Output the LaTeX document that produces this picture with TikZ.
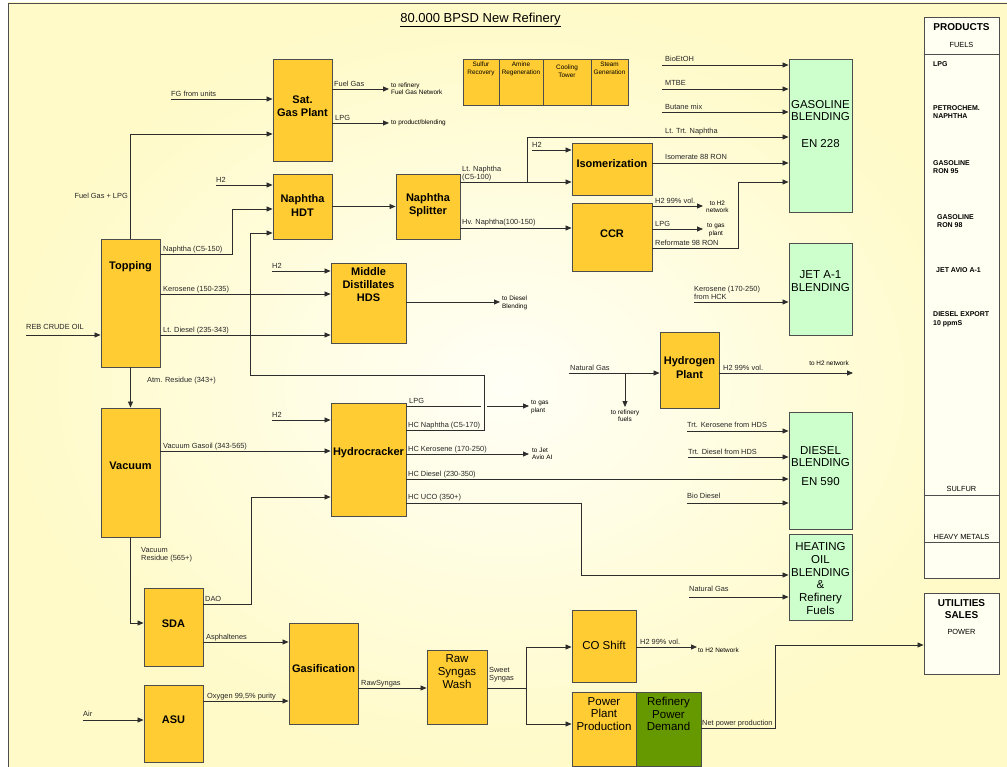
\documentclass[tikz,border=0pt]{standalone}
\usepackage{fontspec}
\setmainfont{Liberation Sans}
\usetikzlibrary{arrows.meta,calc}
\definecolor{bgin}{RGB}{255,255,246}
\definecolor{bgout}{RGB}{255,250,200}
\definecolor{unitc}{RGB}{255,204,51}
\definecolor{blendc}{RGB}{204,255,204}
\definecolor{darkg}{RGB}{102,153,0}
\definecolor{edgec}{RGB}{77,77,77}
\definecolor{linec}{RGB}{45,45,45}
\definecolor{panelc}{RGB}{255,255,242}
\begin{document}
\begin{tikzpicture}[x=1pt,y=-1pt,
  wh/.style 2 args={minimum width=#1pt, minimum height=#2pt},
  unit/.style={draw=edgec, fill=unitc, line width=0.9pt, inner sep=0pt},
  blend/.style={draw=edgec, fill=blendc, line width=0.9pt, inner sep=0pt},
  panel/.style={draw=edgec, fill=panelc, line width=0.9pt, inner sep=0pt},
  ut/.style={font=\fontsize{11}{13.2}\selectfont\bfseries, align=center, inner sep=0pt},
  ur/.style={font=\fontsize{11.5}{12.8}\selectfont, align=center, inner sep=0pt},
  sm/.style={font=\fontsize{6.4}{8}\selectfont, align=center, inner sep=0pt},
  lab/.style={font=\fontsize{7.4}{8.3}\selectfont, inner sep=0pt, anchor=base west, text=black!85},
  tiny/.style={font=\fontsize{6.4}{7.5}\selectfont, inner sep=0pt, align=left, anchor=west},
  pitem/.style={font=\fontsize{7}{8.5}\selectfont\bfseries, inner sep=0pt, align=left, anchor=west},
  ptext/.style={font=\fontsize{7.4}{9}\selectfont, inner sep=0pt},
  arr/.style={draw=linec, line width=0.8pt, -{Triangle[length=6pt,width=5pt]}},
  ln/.style={draw=linec, line width=0.8pt},
  edge/.style={draw=edgec, line width=0.9pt}]
\useasboundingbox (0,0) rectangle (1007,767);
% background and frame
\shade[inner color=bgin, outer color=bgout] (8,3) rectangle (1007,767);
\draw[edge] (8,767) -- (8,3) -- (1007,3);
\node[font=\fontsize{13}{15}\selectfont, inner sep=0pt] (title) at (480.5,20) {\underline{80.000 BPSD New Refinery}};

% process units
\node[unit, wh={59}{102}, label={[ut,yshift=3.5pt]center:{Sat.\\Gas Plant}}] (satgas) at (302.5,110) {};
\node[unit, wh={59}{65}, label={[ut,yshift=1pt]center:{Naphtha\\HDT}}] (nhdt) at (302.5,206.5) {};
\node[unit, wh={59}{128}, label={[ut,yshift=36pt]center:Topping}] (topping) at (130.5,303) {};
\node[unit, wh={64}{65}, label={[ut,yshift=1pt]center:{Naphtha\\Splitter}}] (splitter) at (428,206.5) {};
\node[unit, wh={80}{52}, label={[ut,yshift=5pt]center:Isomerization}] (iso) at (612,169) {};
\node[unit, wh={80}{68}, label={[ut,yshift=3pt]center:CCR}] (ccr) at (612,237) {};
\node[unit, wh={75}{80}, label={[ut,yshift=18.5pt]center:{Middle\\Distillates\\HDS}}] (mdhds) at (368.5,303) {};
\node[unit, wh={59}{129}, label={[ut,yshift=6.5pt]center:Vacuum}] (vacuum) at (130.5,472.5) {};
\node[unit, wh={75}{113}, label={[ut,yshift=6.5pt]center:Hydrocracker}] (hcr) at (368.5,459.5) {};
\node[unit, wh={59}{78}, label={[ut,yshift=3pt]center:SDA}] (sda) at (173.5,627) {};
\node[unit, wh={59}{77}, label={[ut,yshift=3.5pt]center:ASU}] (asu) at (173.5,723.5) {};
\node[unit, wh={69}{101}, label={[ut,yshift=4.5pt]center:Gasification}] (gasif) at (323.5,673.5) {};
\node[unit, wh={60}{74}, label={[ur,yshift=15.5pt]center:{Raw\\Syngas\\Wash}}] (rsw) at (457,687) {};
\node[unit, wh={64}{72}, label={[ur,yshift=1pt]center:CO Shift}] (coshift) at (604,646) {};
\node[unit, wh={64}{74}, label={[ur,yshift=15pt]center:{Power\\Plant\\Production}}] (ppp) at (604,729) {};
\node[unit, fill=darkg, wh={65}{74}, label={[ur,yshift=15pt]center:{Refinery\\Power\\Demand}}] (rpd) at (668.5,729) {};
\node[unit, wh={59}{76}, label={[ut,yshift=2.5pt]center:{Hydrogen\\Plant}}] (h2plant) at (689.5,370) {};

% utility boxes
\node[unit, wh={36}{46}, label={[sm,anchor=north,yshift=-3pt]north:{Sulfur\\Recovery}}] (sulfur) at (481,82) {};
\node[unit, wh={44}{46}, label={[sm,anchor=north,yshift=-3pt]north:{Amine\\Regeneration}}] (amine) at (521,82) {};
\node[unit, wh={48}{46}, label={[sm,anchor=north,yshift=-6pt]north:{Cooling\\Tower}}] (cooling) at (567,82) {};
\node[unit, wh={37}{46}, label={[sm,anchor=north,yshift=-3pt]north:{Steam\\Generation}}] (steam) at (609.5,82) {};

% blending boxes
\node[blend, wh={63}{153}, label={[ur,yshift=11.5pt]center:{GASOLINE\\BLENDING\\[14pt]EN 228}}] (gasoline) at (820.5,135.5) {};
\node[blend, wh={63}{92}, label={[ur,yshift=8pt]center:{JET A-1\\BLENDING}}] (jet) at (820.5,289) {};
\node[blend, wh={63}{117}, label={[ur,yshift=4.5pt]center:{DIESEL\\BLENDING\\[6pt]EN 590}}] (diesel) at (820.5,470.5) {};
\node[blend, wh={63}{86}, label={[ur,yshift=-1.5pt]center:{HEATING\\OIL\\BLENDING\\\&\\Refinery\\Fuels}}] (heating) at (820.5,577) {};

% panels
\node[panel, wh={75}{561}] (products) at (961.5,297.5) {};
\node[font=\fontsize{10}{12}\selectfont\bfseries, inner sep=0pt] (prodh) at (961.5,27) {PRODUCTS};
\node[ptext] (fuels) at (961.5,45) {FUELS};
\draw[edge] (products.west |- 0,54) -- (products.east |- 0,54);
\node[pitem] (p1) at (933,64) {LPG};
\node[pitem] (p2) at (933,112) {PETROCHEM.\\NAPHTHA};
\node[pitem] (p3) at (933,167) {GASOLINE\\RON 95};
\node[pitem] (p4) at (937,221) {GASOLINE\\RON 98};
\node[pitem] (p5) at (936,270) {JET AVIO A-1};
\node[pitem] (p6) at (933,319.5) {DIESEL EXPORT\\10 ppmS};
\node[ptext] (p7) at (961.5,489) {SULFUR};
\draw[edge] (products.west |- 0,495) -- (products.east |- 0,495);
\node[ptext] (p8) at (961.5,537) {HEAVY METALS};
\draw[edge] (products.west |- 0,542) -- (products.east |- 0,542);
\node[panel, wh={75}{81}] (utilities) at (961.5,633.5) {};
\node[font=\fontsize{10}{12}\selectfont\bfseries, align=center, inner sep=0pt] (uth) at (961.5,609) {UTILITIES\\SALES};
\node[ptext] (power) at (961.5,632) {POWER};

% ---- Sat gas plant
\coordinate (fgsrc) at (171,99);
\draw[arr] (fgsrc) -- (fgsrc -| satgas.west);
\node[lab] (l1) at (171,96.5) {FG from units};
\draw[arr] (topping.north) |- (satgas.west |- 0,134);
\node[lab, anchor=base east] (l2) at (128,198.5) {Fuel Gas + LPG};
\coordinate (fgout) at (389,89);
\draw[arr] (satgas.east |- fgout) -- (fgout);
\node[lab] (l3) at (334,86.5) {Fuel Gas};
\node[tiny] (l4) at (391,88.5) {to refinery\\Fuel Gas Network};
\coordinate (lpgout) at (389,123);
\draw[arr] (satgas.east |- lpgout) -- (lpgout);
\node[lab] (l5) at (335,120.5) {LPG};
\node[tiny] (l6) at (391,123) {to product/blending};

% ---- Naphtha HDT
\coordinate (h2a) at (216,185);
\draw[arr] (h2a) -- (h2a -| nhdt.west);
\node[lab] (l7) at (216,182.5) {H2};
\draw[arr] (topping.east |- 0,254) -| (232,209) -- (nhdt.west |- 0,209);
\node[lab] (l8) at (163,251.5) {Naphtha (C5-150)};
\draw[arr] (hcr.east |- 0,430) -| (484,375) -| (250,233) -- (nhdt.west |- 0,233);
\node[lab] (l9) at (408,427.5) {HC Naphtha (C5-170)};
\draw[arr] (nhdt.east) -- (splitter.west);

% ---- Splitter
\draw[arr] (splitter.east |- 0,182) -- (iso.west |- 0,182);
\node[lab, anchor=north west, align=left] (l10) at (462,165.5) {Lt. Naphtha\\(C5-100)};
\coordinate (ltbr) at (527,182);
\draw[arr] (ltbr) |- (gasoline.west |- 0,137);
\node[lab] (l11) at (665,133.5) {Lt. Trt. Naphtha};
\coordinate (h2b) at (532,150);
\draw[arr] (h2b) -- (h2b -| iso.west);
\node[lab] (l12) at (532,147.5) {H2};
\draw[arr] (splitter.east |- 0,228) -- (ccr.west |- 0,228);
\node[lab] (l13) at (462,225) {Hv. Naphtha(100-150)};
\draw[arr] (iso.east |- 0,163) -- (gasoline.west |- 0,163);
\node[lab] (l14) at (665,159.5) {Isomerate 88 RON};

% ---- CCR
\coordinate (ccrh2) at (703,206);
\draw[arr] (ccr.east |- ccrh2) -- (ccrh2);
\node[lab] (l15) at (655,203.5) {H2 99\% vol.};
\node[tiny, align=center] (l16) at (706,207) {to H2\\network};
\coordinate (ccrlpg) at (703,229);
\draw[arr] (ccr.east |- ccrlpg) -- (ccrlpg);
\node[lab] (l17) at (655,226.5) {LPG};
\node[tiny, align=center] (l18) at (707,230) {to gas\\plant};
\draw[arr] (ccr.east |- 0,248) -| (738,182) -- (gasoline.west |- 0,182);
\node[lab] (l19) at (655,245.5) {Reformate 98 RON};

% ---- Gasoline inputs
\coordinate (bio) at (662,65);
\draw[arr] (bio) -- (bio -| gasoline.west);
\node[lab] (l20) at (665,62) {BioEtOH};
\coordinate (mtbe) at (662,89);
\draw[arr] (mtbe) -- (mtbe -| gasoline.west);
\node[lab] (l21) at (665,86) {MTBE};
\coordinate (butane) at (662,112);
\draw[arr] (butane) -- (butane -| gasoline.west);
\node[lab] (l22) at (665,109.5) {Butane mix};

% ---- Jet
\coordinate (kerohck) at (694,302);
\draw[arr] (kerohck) -- (kerohck -| jet.west);
\node[lab, anchor=north west, align=left] (l23) at (694,286) {Kerosene (170-250)\\from HCK};

% ---- Hydrogen plant
\coordinate (ng1) at (569,373);
\draw[arr] (ng1) -- (ng1 -| h2plant.west);
\node[lab] (l24) at (570,370.5) {Natural Gas};
\coordinate (ngbr) at (625,373);
\coordinate (ngfuel) at (625,407);
\draw[arr] (ngbr) -- (ngfuel);
\node[tiny, anchor=north, align=center] (l25) at (625,409.5) {to refinery\\fuels};
\coordinate (h2net) at (853,373);
\draw[arr] (h2plant.east |- h2net) -- (h2net);
\node[lab] (l26) at (723,370.5) {H2 99\% vol.};
\node[tiny, anchor=base east] (l27) at (849,366) {to H2 network};

% ---- Middle distillates HDS
\coordinate (h2c) at (272,271);
\draw[arr] (h2c) -- (h2c -| mdhds.west);
\node[lab] (l28) at (272,268.5) {H2};
\draw[arr] (topping.east |- 0,294) -- (mdhds.west |- 0,294);
\node[lab] (l29) at (163,291.5) {Kerosene (150-235)};
\draw[arr] (topping.east |- 0,335) -- (mdhds.west |- 0,335);
\node[lab] (l30) at (163,332.5) {Lt. Diesel (235-343)};
\coordinate (todiesel) at (500,302);
\draw[arr] (mdhds.east |- todiesel) -- (todiesel);
\node[tiny] (l31) at (502,303) {to Diesel\\Blending};

% ---- Crude, vacuum
\coordinate (crude) at (26,335);
\draw[arr] (crude) -- (crude -| topping.west);
\node[lab] (l32) at (26,329.5) {REB CRUDE OIL};
\draw[arr] (topping.south) -- (vacuum.north);
\node[lab] (l33) at (147,382.5) {Atm. Residue (343+)};
\draw[arr] (vacuum.east |- 0,451) -- (hcr.west |- 0,451);
\node[lab] (l34) at (163,448.5) {Vacuum Gasoil (343-565)};

% ---- Hydrocracker
\coordinate (h2d) at (272,420);
\draw[arr] (h2d) -- (h2d -| hcr.west);
\node[lab] (l35) at (272,417.5) {H2};
\draw[arr] (sda.east |- 0,604) -| (251,497) -- (hcr.west |- 0,497);
\node[lab] (l36) at (205,601.5) {DAO};
\draw[ln] (hcr.east |- 0,406) -- (481,406);
\coordinate (lpgg1) at (487,406);
\coordinate (lpgg2) at (529,406);
\draw[arr] (lpgg1) -- (lpgg2);
\node[lab] (l37) at (409,403.5) {LPG};
\node[tiny] (l38) at (531,407) {to gas\\plant};
\coordinate (tojet) at (529,454);
\draw[arr] (hcr.east |- tojet) -- (tojet);
\node[lab] (l39) at (408,451.5) {HC Kerosene (170-250)};
\node[tiny] (l40) at (532,454) {to Jet\\Avio AI};
\draw[arr] (hcr.east |- 0,479) -- (diesel.west |- 0,479);
\node[lab] (l41) at (408,476) {HC Diesel (230-350)};
\draw[arr] (hcr.east |- 0,503) -| (581,575) -- (heating.west |- 0,575);
\node[lab] (l42) at (408,499.5) {HC UCO (350+)};

% ---- Diesel & heating inputs
\coordinate (trtk) at (687,431);
\draw[arr] (trtk) -- (trtk -| diesel.west);
\node[lab] (l43) at (687,427.5) {Trt. Kerosene from HDS};
\coordinate (trtd) at (688,457);
\draw[arr] (trtd) -- (trtd -| diesel.west);
\node[lab] (l44) at (688,454) {Trt. Diesel from HDS};
\coordinate (biod) at (687,503);
\draw[arr] (biod) -- (biod -| diesel.west);
\node[lab] (l45) at (687,498) {Bio Diesel};
\coordinate (ng2) at (689,597);
\draw[arr] (ng2) -- (ng2 -| heating.west);
\node[lab] (l46) at (689,591) {Natural Gas};

% ---- Residue / gasification
\draw[arr] (vacuum.south) |- (sda.west |- 0,623);
\node[lab, anchor=north west, align=left] (l47) at (141,547) {Vacuum\\Residue (565+)};
\draw[arr] (sda.east |- 0,642) -- (gasif.west |- 0,642);
\node[lab] (l48) at (206,639.5) {Asphaltenes};
\coordinate (air) at (83,720);
\draw[arr] (air) -- (air -| asu.west);
\node[lab] (l49) at (83,716.5) {Air};
\draw[arr] (asu.east |- 0,701) -- (gasif.west |- 0,701);
\node[lab] (l50) at (207,698) {Oxygen 99,5\% purity};
\draw[arr] (gasif.east |- 0,688) -- (rsw.west |- 0,688);
\node[lab] (l51) at (361,685) {RawSyngas};
\coordinate (sw) at (526,688);
\draw[ln] (rsw.east |- sw) -- (sw);
\draw[arr] (sw) |- (coshift.west |- 0,647);
\draw[arr] (sw) |- (ppp.west |- 0,724);
\node[lab, anchor=north west, align=left] (l52) at (489,667) {Sweet\\Syngas};
\coordinate (coh2) at (697,647);
\draw[arr] (coshift.east |- coh2) -- (coh2);
\node[lab] (l53) at (640,644.5) {H2 99\% vol.};
\node[tiny] (l54) at (698,650) {to H2 Network};
\draw[arr] (rpd.east |- 0,728) -| (775,645) -- (utilities.west |- 0,645);
\node[lab] (l55) at (702,725) {Net power production};
\end{tikzpicture}
\end{document}
